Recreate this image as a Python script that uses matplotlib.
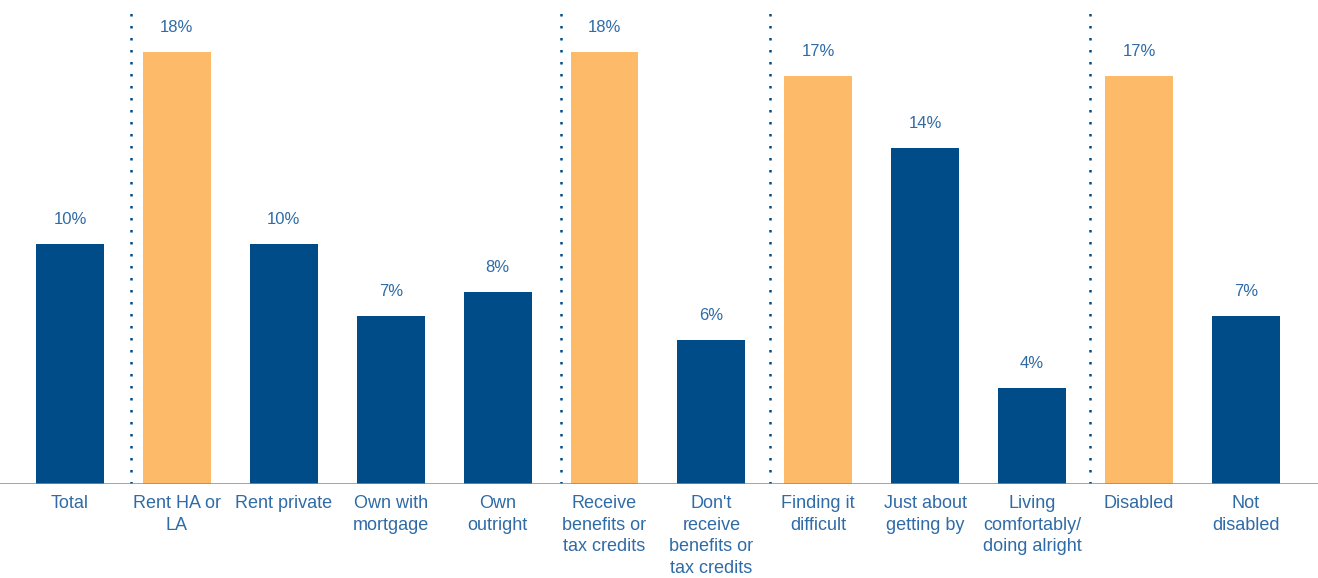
import matplotlib
matplotlib.use("Agg")
import matplotlib.pyplot as plt

categories = [
    "Total",
    "Rent HA or\nLA",
    "Rent private",
    "Own with\nmortgage",
    "Own\noutright",
    "Receive\nbenefits or\ntax credits",
    "Don't\nreceive\nbenefits or\ntax credits",
    "Finding it\ndifficult",
    "Just about\ngetting by",
    "Living\ncomfortably/\ndoing alright",
    "Disabled",
    "Not\ndisabled",
]
values = [10, 18, 10, 7, 8, 18, 6, 17, 14, 4, 17, 7]
highlight = [False, True, False, False, False, True, False, True, False, False, True, False]
# dotted group dividers, in bar-index units
dividers = [0.571, 4.593, 6.548, 9.542]

NAVY = "#004C89"
ORANGE = "#FDBB69"
TEXT = "#2F6BA7"

plt.rcParams["font.family"] = ["Liberation Sans", "DejaVu Sans"]

fig = plt.figure(figsize=(13.18, 5.78), dpi=100)
ax = fig.add_axes([0, 94 / 578, 1, 480 / 578])

x = list(range(len(values)))
colors = [ORANGE if h else NAVY for h in highlight]
bars = ax.bar(x, values, width=0.636, color=colors, zorder=2)

for bar, val in zip(bars, values):
    ax.annotate(
        f"{val}%",
        (bar.get_x() + bar.get_width() / 2, val),
        xytext=(0, 18), textcoords="offset points",
        ha="center", va="center", fontsize=12, color=TEXT,
    )

for d in dividers:
    ax.vlines(d, 0, 19.75, colors=NAVY, linewidth=1.8,
              linestyles=(0, (1, 3.8)), zorder=1)

ax.axhline(0, color="#8c8c8c", linewidth=1.1, zorder=3)

ax.set_xlim(-70 / 106.9, (1318 - 70) / 106.9)
ax.set_ylim(0, 20)
ax.set_xticks(x)
ax.set_xticklabels(categories, fontsize=13, color=TEXT, linespacing=1.35)
ax.tick_params(axis="x", length=0, pad=8)
ax.set_yticks([])
for s in ax.spines.values():
    s.set_visible(False)

fig.savefig("out.png", dpi=100)
